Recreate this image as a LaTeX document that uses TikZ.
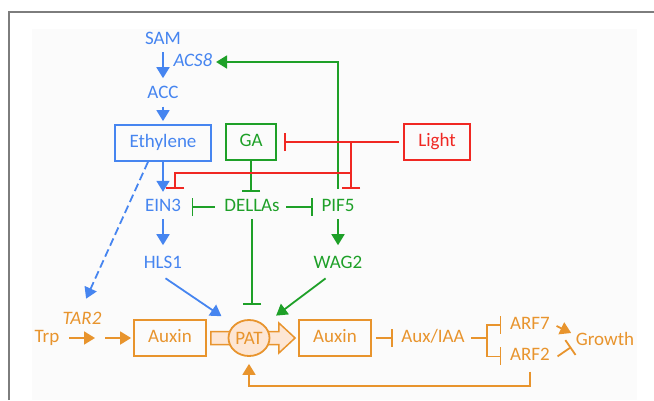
\documentclass[tikz,border=0pt]{standalone}
\usepackage{fontspec}
\setmainfont{Carlito}
\usepackage{tikz}
\usetikzlibrary{positioning,arrows.meta,shapes.geometric,calc}
\definecolor{ethblue}{RGB}{70,133,240}
\definecolor{gagreen}{RGB}{30,160,40}
\definecolor{lightred}{RGB}{240,40,35}
\definecolor{auxorange}{RGB}{232,148,45}
\definecolor{patfill}{RGB}{253,230,212}
\definecolor{framegray}{RGB}{125,125,125}

\begin{document}
\begin{tikzpicture}[
  x=1pt, y=-1pt,
  every node/.style={font=\fontsize{19}{22}\selectfont, inner sep=3.5pt, text height=13pt, text depth=4pt},
  box/.style={draw, line width=1.8pt, minimum height=36pt},
  act/.style={-{Triangle[length=11pt,width=13pt]}, line width=1.8pt},
  inh/.style={-{Bar[width=18pt]}, line width=1.8pt}
]
  \useasboundingbox (0,0) rectangle (654,400);
  \fill[black!1.5] (32,29) rectangle (637,400);
  \draw[framegray, line width=1.5pt] (9,400) -- (9,12) -- (654,12);

  \node[ethblue] (sam) at (163,40) {SAM};
  \node[ethblue, below=30pt of sam] (acc) {ACC};
  \node[ethblue, font=\fontsize{19}{22}\selectfont\itshape] (acs8) at (193,62) {ACS8};
  \node[box, ethblue, minimum width=96pt] (eth) at (163,143) {Ethylene};
  \node[box, gagreen, minimum width=50pt] (ga) at (251,142) {GA};
  \node[box, lightred, minimum width=66pt] (light) at (437,142) {Light};
  \node[ethblue] (ein3) at (163,207) {EIN3};
  \node[gagreen] (dellas) at (252,207) {DELLAs};
  \node[gagreen] (pif5) at (338,207) {PIF5};
  \node[ethblue, below=33pt of ein3] (hls1) {HLS1};
  \node[gagreen, below=33pt of pif5] (wag2) {WAG2};

  \node[auxorange] (trp) at (47,338) {Trp};
  \node[auxorange, font=\fontsize{19}{22}\selectfont\itshape] (tar2) at (82,320) {TAR2};
  \coordinate (tarstep) at (100,338);
  \node[box, auxorange, minimum width=72pt] (aux1) at (170,338) {Auxin};
  \node[box, auxorange, minimum width=72pt] (aux2) at (335,338) {Auxin};
  \draw[auxorange, fill=patfill, line width=1.5pt] ($(aux1.east)+(4,-6.5)$) -- ++(68,0) -- ++(0,-8.5)
    -- ($(aux2.west)+(-3,0)$) -- ($(aux1.east)+(72,15)$) -- ++(0,-8.5) -- ($(aux1.east)+(4,6.5)$) -- cycle;
  \node[ellipse, draw, auxorange, fill=patfill, line width=1.8pt, inner sep=0pt, text height=12pt,
    text depth=0pt, minimum width=41pt, minimum height=36pt] (pat) at (249,338) {PAT};
  \node[auxorange] (auxiaa) at (433,338) {Aux/IAA};
  \coordinate (split) at (487,338);
  \node[auxorange] (arf7) at (530,325) {ARF7};
  \node[auxorange, below=7pt of arf7] (arf2) {ARF2};
  \node[auxorange] (growth) at (605,341) {Growth};

  \draw[ethblue, act, shorten >=4pt] (sam) -- (acc);
  \draw[ethblue, act, shorten >=3pt] (acc) -- (eth);
  \draw[ethblue, act, shorten >=3pt] (eth) -- (ein3);
  \draw[ethblue, act, shorten >=7pt] (ein3) -- (hls1);
  \draw[ethblue, act, shorten <=3pt, shorten >=15pt] (hls1.south) -- (pat.north west);
  \draw[ethblue, act, dash pattern=on 8pt off 4pt, shorten >=10pt] ([xshift=-15pt]eth.south) -- (tar2.north);

  \draw[gagreen, act, shorten <=6pt] (pif5.north) |- (acs8.east);
  \draw[gagreen, inh, shorten >=3pt] (ga.south) -- (ga.south |- dellas.north);
  \draw[gagreen, inh, shorten <=6pt, shorten >=7pt] (dellas.west) -- (ein3.east);
  \draw[gagreen, inh, shorten <=3pt, shorten >=5pt] (dellas.east) -- (pif5.west);
  \draw[gagreen, inh, shorten >=14pt] (dellas.south) -- (dellas.south |- pat.north);
  \draw[gagreen, act, shorten >=7pt] (pif5) -- (wag2);
  \draw[gagreen, act, shorten <=3pt, shorten >=15pt] ([xshift=-10pt]wag2.south) -- (pat.north east);

  \coordinate (lj) at (351,142);
  \coordinate (lk) at (351,173);
  \draw[lightred, inh, shorten <=4pt, shorten >=7pt] (light.west) -- (ga.east);
  \draw[lightred, inh, shorten >=6pt] (lj) -- (lj |- pif5.north);
  \draw[lightred, inh, shorten >=6pt] (lk) -| ([xshift=12pt]ein3.north);

  \draw[auxorange, act, shorten <=6pt, shorten >=5pt] (trp.east) -- (tarstep);
  \draw[auxorange, act, shorten <=5pt, shorten >=2pt] (tarstep) -- (aux1.west);
  \draw[auxorange, inh, shorten <=4pt, shorten >=5pt] (aux2.east) -- (auxiaa.west);
  \draw[auxorange, line width=1.8pt, shorten <=3pt] (auxiaa.east) -- (split);
  \draw[auxorange, inh, shorten >=5pt] (split) |- (arf7.west);
  \draw[auxorange, inh, shorten >=5pt] (split) |- (arf2.west);
  \draw[auxorange, act] ($(arf7.east)+(3,1)$) -- ($(growth.west)+(-1,-8)$);
  \draw[auxorange, inh] ($(arf2.east)+(4,0)$) -- ($(growth.west)+(-1,6)$);
  \draw[auxorange, act, shorten <=3pt, shorten >=7pt] (arf2.south) -- ++(0,17) -| (pat.south);
\end{tikzpicture}
\end{document}
